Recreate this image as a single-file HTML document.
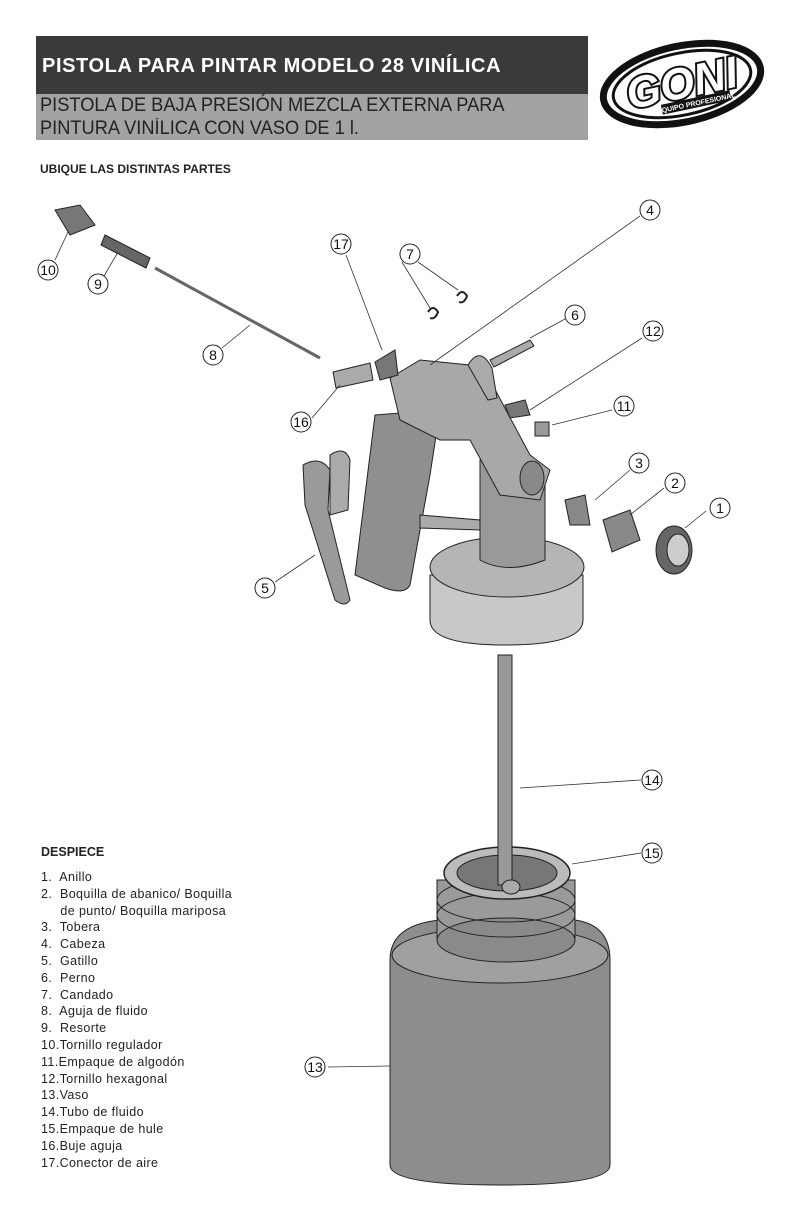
<!DOCTYPE html>
<html><head><meta charset="utf-8"><style>
html,body{margin:0;padding:0;background:#fff}
body{width:792px;height:1224px;position:relative;overflow:hidden;font-family:"Liberation Sans",sans-serif}
.t1{position:absolute;left:36px;top:36px;width:552px;height:58px;background:#3a3a3a;color:#fff;font-weight:bold;font-size:20px;line-height:60px;padding-left:6px;box-sizing:border-box;letter-spacing:0.6px}
.t2{position:absolute;left:36px;top:94px;width:552px;height:46px;background:#a3a3a3;color:#222;font-size:19px;line-height:23px;padding-left:4px;box-sizing:border-box}
.t2 span{display:inline-block;transform:scaleX(0.96);transform-origin:left}
.h{position:absolute;font-weight:bold;font-size:12px;color:#222}
.list{position:absolute;left:41px;top:869px;font-size:12.5px;line-height:16.8px;color:#222;letter-spacing:0.4px}
</style></head><body>
<div class="t1">PISTOLA PARA PINTAR MODELO 28 VINÍLICA</div>
<div class="t2"><span>PISTOLA DE BAJA PRESIÓN MEZCLA EXTERNA PARA</span><br><span>PINTURA VINÍLICA CON VASO DE 1 l.</span></div>
<div class="h" style="left:40px;top:162px">UBIQUE LAS DISTINTAS PARTES</div>
<div class="h" style="left:41px;top:845px;font-size:12.5px">DESPIECE</div>
<div class="list">1.&nbsp; Anillo<br>2.&nbsp; Boquilla de abanico/ Boquilla<br>&nbsp;&nbsp;&nbsp;&nbsp; de punto/ Boquilla mariposa<br>3.&nbsp; Tobera<br>4.&nbsp; Cabeza<br>5.&nbsp; Gatillo<br>6.&nbsp; Perno<br>7.&nbsp; Candado<br>8.&nbsp; Aguja de fluido<br>9.&nbsp; Resorte<br>10.Tornillo regulador<br>11.Empaque de algodón<br>12.Tornillo hexagonal<br>13.Vaso<br>14.Tubo de fluido<br>15.Empaque de hule<br>16.Buje aguja<br>17.Conector de aire</div>
<svg width="792" height="1224" style="position:absolute;left:0;top:0" xmlns="http://www.w3.org/2000/svg">
<g transform="translate(682,84) rotate(-12)">
<ellipse cx="0" cy="0" rx="80" ry="38" fill="#fff" stroke="#111" stroke-width="7"/>
<ellipse cx="0" cy="0" rx="70" ry="31" fill="#fff" stroke="#111" stroke-width="3"/>
<text x="0" y="14" text-anchor="middle" font-family="Liberation Sans" font-weight="bold" font-style="italic" font-size="44" fill="#fff" stroke="#111" stroke-width="4" paint-order="stroke">GONI</text>
<rect x="-25" y="16" width="70" height="10" fill="#111"/>
<text x="10" y="24" text-anchor="middle" font-family="Liberation Sans" font-weight="bold" font-size="7" fill="#fff">EQUIPO PROFESIONAL</text>
</g>
<g stroke="#222" stroke-width="1" fill="#9a9a9a">
<path d="M390 960 Q390 925 440 920 L575 920 Q610 925 610 960 L610 1165 Q610 1185 500 1185 Q390 1185 390 1165 Z" fill="#8d8d8d"/>
<ellipse cx="500" cy="955" rx="108" ry="28" fill="#a0a0a0"/>
<rect x="437" y="880" width="138" height="60" fill="#9a9a9a"/>
<ellipse cx="506" cy="940" rx="69" ry="22" fill="#8a8a8a"/>
<ellipse cx="506" cy="915" rx="69" ry="22" fill="none"/>
<ellipse cx="506" cy="900" rx="69" ry="22" fill="none"/>
<ellipse cx="507" cy="873" rx="63" ry="26" fill="#bbb" stroke-width="1.5"/>
<ellipse cx="507" cy="873" rx="50" ry="18" fill="#777"/>
<rect x="498" y="655" width="14" height="230" fill="#999"/>
<ellipse cx="511" cy="887" rx="9" ry="7" fill="#aaa"/>
<path d="M430 575 L430 620 Q430 645 505 645 Q583 645 583 620 L583 575 Z" fill="#c8c8c8"/>
<ellipse cx="507" cy="567" rx="77" ry="30" fill="#b5b5b5"/>
<path d="M480 460 L480 560 Q507 575 545 560 L545 470 Z" fill="#999"/>
<path d="M375 415 L440 410 L430 475 L410 585 Q405 595 385 588 L355 575 Z" fill="#8f8f8f"/>
<path d="M390 378 L420 360 L470 365 L490 380 L530 455 L550 470 L540 500 L500 495 L470 440 L440 440 L400 420 Z" fill="#a8a8a8"/>
<path d="M375 362 L395 350 L398 375 L380 380 Z" fill="#777"/>
<path d="M468 365 Q480 345 492 368 L497 398 L488 400 Z" fill="#aaa"/>
<ellipse cx="532" cy="478" rx="12" ry="17" fill="#888"/>
<path d="M420 515 L480 520 L480 530 L420 528 Z" fill="#aaa"/>
<path d="M303 465 Q320 455 330 470 L328 510 L350 600 Q345 608 335 600 L305 505 Z" fill="#9a9a9a"/>
<path d="M330 455 Q345 445 350 460 L348 510 L330 515 Z" fill="#aaa"/>
<path d="M565 500 L585 495 L590 525 L570 525 Z" fill="#888"/>
<path d="M603 520 L630 510 L640 540 L612 552 Z" fill="#888"/>
<ellipse cx="674" cy="550" rx="18" ry="24" fill="#666"/>
<ellipse cx="678" cy="550" rx="11" ry="16" fill="#ccc"/>
<path d="M490 360 L530 340 L534 346 L494 367 Z" fill="#aaa"/>
<path d="M505 405 L525 400 L530 415 L510 418 Z" fill="#777"/>
<rect x="535" y="422" width="14" height="14" fill="#999"/>
<path d="M333 372 L370 363 L373 380 L336 388 Z" fill="#aaa"/>
<path d="M55 210 L80 205 L95 225 L70 235 Z" fill="#777"/>
<path d="M105 235 L150 258 L146 268 L101 245 Z" fill="#666"/>
<line x1="155" y1="268" x2="320" y2="358" stroke-width="3" stroke="#666"/>
<path d="M428 312 q5 -8 10 0 q-3 8 -8 6" fill="none" stroke-width="2"/>
<path d="M457 296 q5 -8 10 0 q-3 8 -8 6" fill="none" stroke-width="2"/>
</g>
<g stroke="#333" stroke-width="0.8" fill="none">
<line x1="706" y1="511" x2="685" y2="528"/>
<line x1="664" y1="488" x2="630" y2="515"/>
<line x1="630" y1="470" x2="595" y2="500"/>
<line x1="640" y1="216" x2="430" y2="365"/>
<line x1="275" y1="582" x2="315" y2="555"/>
<line x1="565" y1="319" x2="530" y2="338"/>
<line x1="402" y1="262" x2="430" y2="308"/>
<line x1="418" y1="262" x2="458" y2="290"/>
<line x1="222" y1="348" x2="250" y2="325"/>
<line x1="104" y1="276" x2="118" y2="252"/>
<line x1="55" y1="260" x2="68" y2="232"/>
<line x1="612" y1="410" x2="552" y2="425"/>
<line x1="642" y1="338" x2="530" y2="410"/>
<line x1="328" y1="1067" x2="390" y2="1066"/>
<line x1="520" y1="788" x2="641" y2="780"/>
<line x1="572" y1="864" x2="641" y2="853"/>
<line x1="312" y1="418" x2="340" y2="385"/>
<line x1="346" y1="255" x2="382" y2="350"/>
</g>
<g font-family="Liberation Sans" font-size="14" text-anchor="middle" fill="#111">
<g fill="#fff" stroke="#222" stroke-width="1">
<circle cx="720" cy="508" r="10"/><circle cx="675" cy="483" r="10"/><circle cx="639" cy="463" r="10"/><circle cx="650" cy="210" r="10"/><circle cx="265" cy="588" r="10"/><circle cx="575" cy="315" r="10"/><circle cx="410" cy="254" r="10"/><circle cx="213" cy="355" r="10"/><circle cx="98" cy="284" r="10"/><circle cx="48" cy="270" r="10"/><circle cx="624" cy="406" r="10"/><circle cx="653" cy="331" r="10"/><circle cx="315" cy="1067" r="10"/><circle cx="652" cy="780" r="10"/><circle cx="652" cy="853" r="10"/><circle cx="301" cy="422" r="10"/><circle cx="341" cy="244" r="10"/>
</g>
<text x="720" y="513">1</text><text x="675" y="488">2</text><text x="639" y="468">3</text><text x="650" y="215">4</text><text x="265" y="593">5</text><text x="575" y="320">6</text><text x="410" y="259">7</text><text x="213" y="360">8</text><text x="98" y="289">9</text><text x="48" y="275">10</text><text x="624" y="411">11</text><text x="653" y="336">12</text><text x="315" y="1072">13</text><text x="652" y="785">14</text><text x="652" y="858">15</text><text x="301" y="427">16</text><text x="341" y="249">17</text>
</g>
</svg>
</body></html>
